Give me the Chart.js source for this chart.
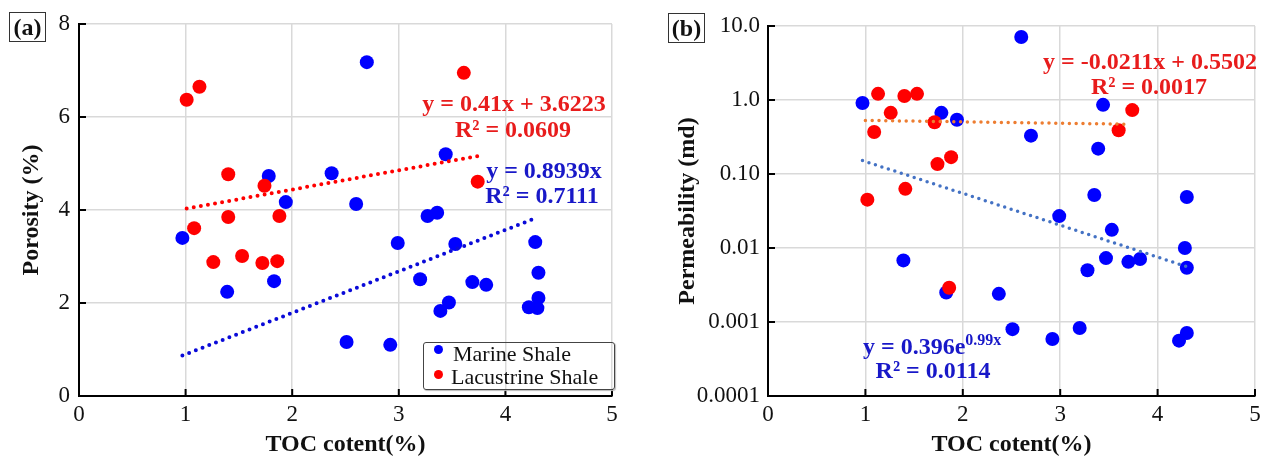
<!DOCTYPE html>
<html>
<head>
<meta charset="utf-8">
<script src="https://cdn.jsdelivr.net/npm/chart.js@4.4.1/dist/chart.umd.min.js"></script>
<style>
  body { margin: 0; background: #fff; }
  #wrap { position: relative; width: 1268px; height: 457px; overflow: hidden; font-family: "Liberation Serif", "Times New Roman", serif; }
  canvas { position: absolute; top: 0; }
  #chartA { left: 0; }
  #chartB { left: 640px; }
  .tag { position: absolute; width: 35px; height: 28px; border: 1.5px solid #333; font-weight: bold; font-size: 24px; line-height: 28px; text-align: center; color: #111; }
  .eq { position: absolute; transform: translate(-50%, -50%); font-weight: bold; font-size: 24px; line-height: 24px; white-space: nowrap; }
  .eq.left { transform: translate(0, -50%); }
  .red { color: #e81c1c; }
  .blue { color: #1818c8; }
  .eq sup { font-size: 16px; vertical-align: 9px; line-height: 0; }
  .legend { position: absolute; left: 423px; top: 342px; width: 190px; height: 46px; border: 1px solid #444; border-radius: 3px; box-shadow: 1px 1px 1px #bbb; }
  .legend .dot { position: absolute; width: 9px; height: 9px; border-radius: 50%; }
  .legend .txt { position: absolute; font-size: 22px; line-height: 22px; white-space: nowrap; color: #111; }
</style>
</head>
<body>
<div id="wrap">
  <canvas id="chartA" width="630" height="457"></canvas>
  <canvas id="chartB" width="628" height="457"></canvas>

  <div class="tag" style="left:9px; top:12px;">(a)</div>
  <div class="tag" style="left:668px; top:13px;">(b)</div>

  <div class="eq red" style="left:514px; top:103px;">y = 0.41x + 3.6223</div>
  <div class="eq red" style="left:513px; top:129px;">R² = 0.0609</div>
  <div class="eq blue" style="left:544px; top:170px;">y = 0.8939x</div>
  <div class="eq blue" style="left:542px; top:195px;">R² = 0.7111</div>

  <div class="eq red" style="left:1150px; top:61px;">y = -0.0211x + 0.5502</div>
  <div class="eq red" style="left:1149px; top:86px;">R² = 0.0017</div>
  <div class="eq blue left" style="left:863px; top:346px;">y = 0.396e<sup>0.99x</sup></div>
  <div class="eq blue" style="left:933px; top:370px;">R² = 0.0114</div>

  <div class="legend">
    <div class="dot" style="left:10px; top:2px; background:#0000ff;"></div>
    <div class="txt" style="left:29px; top:0px;">Marine Shale</div>
    <div class="dot" style="left:10px; top:27px; background:#ff0000;"></div>
    <div class="txt" style="left:27px; top:23px;">Lacustrine Shale</div>
  </div>
</div>

<script>
// (a) porosity vs TOC
const marineTocA = [0.97, 1.39, 1.83, 1.78, 1.94, 2.70, 2.37, 2.60, 3.44, 3.27, 3.36, 2.99, 3.53, 4.28, 3.20, 3.69, 3.82, 4.31, 3.47, 3.39, 4.31, 4.22, 4.30, 2.51, 2.92];
const marinePorosity = [3.40, 2.24, 2.47, 4.73, 4.17, 7.18, 4.79, 4.13, 5.20, 3.87, 3.94, 3.29, 3.27, 3.31, 2.51, 2.45, 2.39, 2.65, 2.01, 1.83, 2.11, 1.91, 1.89, 1.16, 1.10];
const lacusTocA = [1.01, 1.13, 1.40, 1.74, 1.08, 1.40, 1.88, 1.26, 1.53, 1.72, 1.86, 3.61, 3.74];
const lacusPorosity = [6.37, 6.65, 4.77, 4.52, 3.61, 3.85, 3.87, 2.88, 3.01, 2.86, 2.90, 6.95, 4.61];

// trend line ends
const lacusFitA_x = [1.01, 3.74];
const lacusFitA_y = [4.03, 5.16];
const marineFitA_x = [0.97, 4.30];
const marineFitA_y = [0.87, 3.84];

// (b) permeability vs TOC
const marineTocB = [0.97, 1.78, 1.94, 2.60, 2.70, 3.44, 3.39, 3.35, 4.30, 2.99, 3.53, 4.28, 3.47, 3.70, 3.82, 3.28, 4.30, 1.39, 1.83, 2.37, 2.51, 2.92, 3.20, 4.22, 4.30];
const marinePerm = [0.91, 0.67, 0.54, 7.1, 0.33, 0.86, 0.22, 0.052, 0.049, 0.027, 0.0176, 0.0100, 0.0073, 0.0065, 0.0071, 0.0050, 0.0054, 0.0068, 0.0025, 0.0024, 0.00080, 0.00059, 0.00083, 0.00056, 0.00071];
const lacusTocB = [1.13, 1.40, 1.53, 1.26, 1.09, 1.71, 1.74, 1.88, 1.41, 1.02, 1.86, 3.74, 3.60];
const lacusPerm = [1.21, 1.13, 1.21, 0.67, 0.37, 0.50, 0.136, 0.169, 0.063, 0.045, 0.0029, 0.73, 0.39];

const lacusFitB_x = [1.00, 3.72];
const lacusFitB_y = [0.53, 0.47];
const marineFitB_x = [0.97, 4.30];
const marineFitB_y = [0.152, 0.0056];

const permTicks = [0.0001, 0.001, 0.01, 0.1, 1, 10];
const permTickLabels = ['0.0001', '0.001', '0.01', '0.10', '1.0', '10.0'];

const serif = '"Liberation Serif", "Times New Roman", serif';

function pts(xs, ys) {
    return xs.map((x, i) => ({ x: x, y: ys[i] }));
}

// tick marks point into the plot
const innerTicks = {
    id: 'innerTicks',
    beforeDatasetsDraw(chart) {
        const { ctx, chartArea, scales } = chart;
        ctx.save();
        ctx.strokeStyle = '#000';
        ctx.lineWidth = 2;
        ctx.beginPath();
        scales.x.ticks.forEach(t => {
            const px = scales.x.getPixelForValue(t.value);
            ctx.moveTo(px, chartArea.bottom);
            ctx.lineTo(px, chartArea.bottom - 7);
        });
        scales.y.ticks.forEach(t => {
            const py = scales.y.getPixelForValue(t.value);
            ctx.moveTo(chartArea.left, py);
            ctx.lineTo(chartArea.left + 7, py);
        });
        ctx.stroke();
        ctx.restore();
    }
};

function dotLine(data, color, width, gap) {
    return {
        type: 'line',
        data: data,
        borderColor: color,
        borderWidth: width,
        borderDash: [0, gap],
        borderCapStyle: 'round',
        pointRadius: 0,
        fill: false,
        order: 0
    };
}

function dots(data, color, order) {
    return {
        data: data,
        backgroundColor: color,
        borderWidth: 0,
        pointRadius: 7,
        pointHoverRadius: 7,
        order: order
    };
}

function makeOptions(o) {
    return {
        responsive: false,
        animation: false,
        layout: { padding: { top: o.top, right: o.right, left: 0, bottom: 0 } },
        plugins: { legend: { display: false }, tooltip: { enabled: false } },
        scales: {
            x: {
                type: 'linear',
                min: 0, max: 5,
                afterFit: s => { s.height = 61; },
                ticks: { stepSize: 1, padding: 5, color: '#111', font: { family: serif, size: 23 } },
                grid: { color: '#d9d9d9', lineWidth: 1.5, drawTicks: false },
                border: { color: '#000', width: 2 },
                title: { display: true, text: 'TOC cotent(%)', color: '#111', padding: { top: 0, bottom: 0 },
                         font: { family: serif, size: 24, weight: 'bold', lineHeight: 1 } }
            },
            y: Object.assign({
                afterFit: s => { s.width = o.yWidth; },
                grid: { color: '#d9d9d9', lineWidth: 1.5, drawTicks: false },
                border: { color: '#000', width: 2 },
                title: { display: true, text: o.yTitle, color: '#111', padding: { top: o.titlePad, bottom: 0 },
                         font: { family: serif, size: 24, weight: 'bold', lineHeight: 1 } }
            }, o.y)
        }
    };
}

new Chart(document.getElementById('chartA'), {
    type: 'scatter',
    data: {
        datasets: [
            dotLine(pts(lacusFitA_x, lacusFitA_y), '#ff0000', 4, 7.2),
            dotLine(pts(marineFitA_x, marineFitA_y), '#0a0ad8', 4, 7.2),
            dots(pts(lacusTocA, lacusPorosity), '#ff0000', 1),
            dots(pts(marineTocA, marinePorosity), '#0000ff', 2)
        ]
    },
    options: makeOptions({
        top: 24, right: 18, yWidth: 79, titlePad: 20, yTitle: 'Porosity (%)',
        y: {
            type: 'linear', min: 0, max: 8,
            ticks: { stepSize: 2, padding: 9, color: '#111', font: { family: serif, size: 23 } }
        }
    }),
    plugins: [innerTicks]
});

new Chart(document.getElementById('chartB'), {
    type: 'scatter',
    data: {
        datasets: [
            dotLine(pts(lacusFitB_x, lacusFitB_y), '#ed7d31', 3.5, 6.8),
            dotLine(pts(marineFitB_x, marineFitB_y), '#4472c4', 3.5, 6.8),
            dots(pts(lacusTocB, lacusPerm), '#ff0000', 1),
            dots(pts(marineTocB, marinePerm), '#0000ff', 2)
        ]
    },
    options: makeOptions({
        top: 26, right: 13, yWidth: 128, titlePad: 36, yTitle: 'Permeability (md)',
        y: {
            type: 'logarithmic', min: 0.0001, max: 10,
            afterBuildTicks: s => { s.ticks = permTicks.map(v => ({ value: v })); },
            ticks: {
                padding: 8, color: '#111', font: { family: serif, size: 23 },
                callback: v => permTickLabels[permTicks.indexOf(v)]
            }
        }
    }),
    plugins: [innerTicks]
});
</script>
</body>
</html>
